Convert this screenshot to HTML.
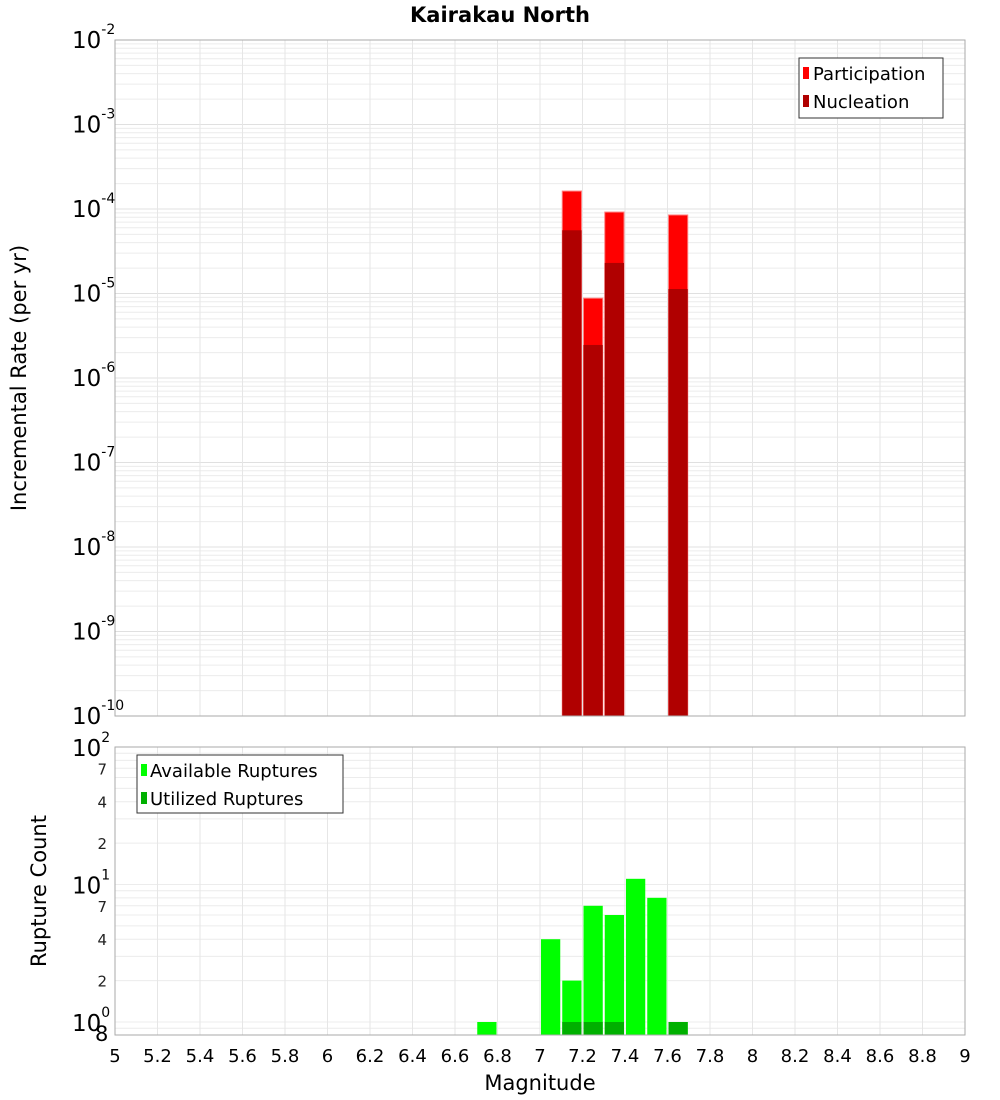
<!DOCTYPE html>
<html><head><meta charset="utf-8"><style>body{margin:0;background:#fff}svg{display:block;font-family:"DejaVu Sans","Liberation Sans",sans-serif}</style></head>
<body>
<svg id="c" width="1000" height="1100" xmlns="http://www.w3.org/2000/svg">
<text x="500" y="22" text-anchor="middle" font-size="21" font-weight="bold">Kairakau North</text>
<g id="topg"></g><g id="botg"></g>
<text transform="translate(26,378) rotate(-90)" text-anchor="middle" font-size="21">Incremental Rate (per yr)</text>
<text transform="translate(46,891) rotate(-90)" text-anchor="middle" font-size="21">Rupture Count</text>
<text x="540" y="1090" text-anchor="middle" font-size="21">Magnitude</text>
</svg>
<script>
const mags = [7.15, 7.25, 7.35, 7.65];
const participation = [1.63e-4, 8.8e-6, 9.2e-5, 8.5e-5];
const nucleation = [5.6e-5, 2.46e-6, 2.3e-5, 1.13e-5];
const availMags = [6.75, 7.05, 7.15, 7.25, 7.35, 7.45, 7.55, 7.65];
const available = [1, 4, 2, 7, 6, 11, 8, 1];
const utilMags = [7.15, 7.25, 7.35, 7.65];
const utilized = [1, 1, 1, 1];
const xTicks = [5,5.2,5.4,5.6,5.8,6,6.2,6.4,6.6,6.8,7,7.2,7.4,7.6,7.8,8,8.2,8.4,8.6,8.8,9];

const NS="http://www.w3.org/2000/svg";
const L=115,R=965;
const xs=m=>L+(m-5)/4*(R-L);
const T1=40,B1=716,yTop=v=>T1+(-2-Math.log10(v))/8*(B1-T1);
const T2=747,B2=1035,D=137.5,Y0=1022;
const yBot=v=>Y0-Math.log10(v)*D;
function el(p,t,a,txt){const e=document.createElementNS(NS,t);for(const k in a)e.setAttribute(k,a[k]);if(txt!==undefined)e.textContent=txt;p.appendChild(e);return e;}
const topG=document.getElementById('topg'),botG=document.getElementById('botg');

for(let d=-10;d<-2;d++)for(let k=1;k<10;k++){const y=yTop(k*Math.pow(10,d));
  const g=el(topG,'line',{x1:L,x2:R,y1:y,y2:y,stroke:k==1?'#e0e0e0':'#ececec','stroke-width':1});
  
  }
xTicks.forEach(t=>{const g=el(topG,'line',{x1:xs(t),x2:xs(t),y1:T1,y2:B1,stroke:'#e6e6e6'});
  
  });
mags.forEach((m,i)=>{
  const x0=xs(m-0.05)+1,w=xs(m+0.05)-xs(m-0.05)-2;
  const p=el(topG,'rect',{x:x0,y:yTop(participation[i]),width:w,height:B1-yTop(participation[i]),fill:'#ff0000',stroke:'#ff8080','stroke-width':1});
  
  
  const n=el(topG,'rect',{x:x0,y:yTop(nucleation[i]),width:w,height:B1-yTop(nucleation[i]),fill:'#b00000'});
  
  
});
const f1=el(topG,'rect',{x:L,y:T1,width:R-L,height:B1-T1,fill:'none',stroke:'#aaa'});


for(let d=-2;d>=-10;d--){const y=yTop(Math.pow(10,d));
  const t=el(topG,'text',{x:72,y:y+8,'font-size':23},'10');
  
  
  el(t,'tspan',{dy:-14,'font-size':14},String(d));}
const lg=el(topG,'g',{});


el(lg,'rect',{x:799,y:58,width:144,height:60,fill:'#fff',stroke:'#333'});
el(lg,'rect',{x:803,y:67,width:6,height:12,fill:'#ff0000'});
el(lg,'text',{x:813,y:80,'font-size':18},'Participation');
el(lg,'rect',{x:803,y:95,width:6,height:12,fill:'#b00000'});
el(lg,'text',{x:813,y:108,'font-size':18},'Nucleation');

for(let d=-1;d<2;d++)for(let k=1;k<10;k++){const v=k*Math.pow(10,d);const y=yBot(v);if(y>B2||y<T2)continue;
  const g=el(botG,'line',{x1:L,x2:R,y1:y,y2:y,stroke:'#ececec'});
  
  }
xTicks.forEach(t=>{const g=el(botG,'line',{x1:xs(t),x2:xs(t),y1:T2,y2:B2,stroke:'#e6e6e6'});
  
  });
availMags.forEach((m,i)=>{const x0=xs(m-0.05)+1,w=xs(m+0.05)-xs(m-0.05)-2,y=yBot(available[i]);
  const r=el(botG,'rect',{x:x0,y:y,width:w,height:B2-y,fill:'#00ff00'});
  
  });
utilMags.forEach((m,i)=>{const x0=xs(m-0.05)+1,w=xs(m+0.05)-xs(m-0.05)-2,y=yBot(utilized[i]);
  const r=el(botG,'rect',{x:x0,y:y,width:w,height:B2-y,fill:'#00b000'});
  
  });
const f2=el(botG,'rect',{x:L,y:T2,width:R-L,height:B2-T2,fill:'none',stroke:'#aaa'});


[2,1,0].forEach(d=>{const y=yBot(Math.pow(10,d));
  const t=el(botG,'text',{x:72,y:y+9,'font-size':23},'10');
  
  
  el(t,'tspan',{dy:-14,'font-size':14},String(d));});
[7,4,2,70,40,20].forEach(v=>{const y=yBot(v);
  const t=el(botG,'text',{x:107,y:y+6,'font-size':15,'text-anchor':'end',fill:'#222'},String(v>9?v/10:v));
  
  });
const t8=el(botG,'text',{x:95,y:1041,'font-size':21},'8');


xTicks.forEach(t=>{const e=el(botG,'text',{x:xs(t),y:1062,'font-size':18,'text-anchor':'middle'},String(t));
  
  });
const lb=el(botG,'g',{});


el(lb,'rect',{x:137,y:755,width:206,height:58,fill:'#fff',stroke:'#333'});
el(lb,'rect',{x:141,y:764,width:6,height:12,fill:'#00ff00'});
el(lb,'text',{x:150,y:777,'font-size':18},'Available Ruptures');
el(lb,'rect',{x:141,y:792,width:6,height:12,fill:'#00b000'});
el(lb,'text',{x:150,y:805,'font-size':18},'Utilized Ruptures');
</script>
</body></html>
